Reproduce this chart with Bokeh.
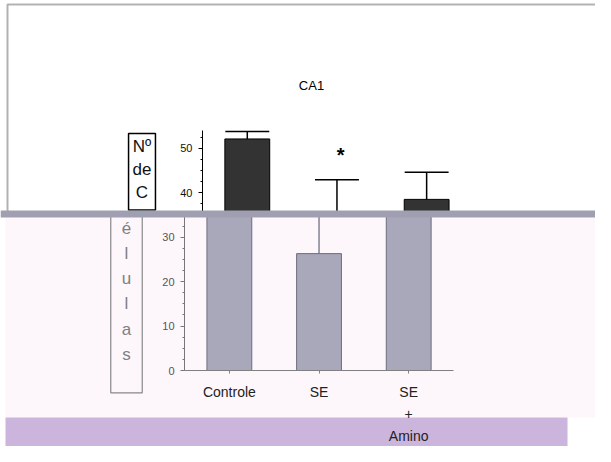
from bokeh.plotting import figure
from bokeh.models import (Range1d, Label, BoxAnnotation, ColumnDataSource, LinearAxis,
                          SingleIntervalTicker, FixedTicker)
from bokeh.transform import dodge
from bokeh.embed import file_html
from bokeh.resources import INLINE

# ---- data ----
categories = ["Controle", "SE", "SE + Amino"]
means = [52.1, 26.3, 38.5]
errors = [1.7, 16.6, 6.1]
y_tick_interval = 10
title_text = "CA1"
y_label_upper = ["Nº", "de", "C"]
y_label_lower = ["é", "l", "u", "l", "a", "s"]
x_tick_texts = ["Controle", "SE", "SE\n+\nAmino"]
star_text = "*"

# style constants
BAND = 35.2      # level where the picture is split by the grey band
SHIFT = 0.2      # offset of the upper half of the picture
Y_TOP = 54
FONT = "Liberation Sans"

xs = [i + 0.5 for i in range(len(categories))]


def canvas_box(left, right, top, bottom, **kw):
    return BoxAnnotation(left=left, right=right, top=top, bottom=bottom,
                         left_units="canvas", right_units="canvas",
                         top_units="canvas", bottom_units="canvas", **kw)


p = figure(width=595, height=446, output_backend="svg", toolbar_location=None,
           x_range=Range1d(-2.052, 4.583), y_range=Range1d(-17.1, 83.25),
           x_axis_location=None, y_axis_location=None, min_border=0)
p.outline_line_color = None
p.grid.grid_line_color = None
p.background_fill_color = "white"
p.border_fill_color = "white"

# decorative regions of the picture
p.add_layout(canvas_box(5, 620, 217, 417, fill_color="#fdf7fc", fill_alpha=1,
                        line_color=None, level="underlay"))
p.add_layout(canvas_box(5, 567, 417, 470, fill_color="#cbb5dc", fill_alpha=1,
                        line_color=None, level="underlay"))
p.add_layout(canvas_box(7, 640, 4, 212, fill_alpha=0, line_color="black",
                        line_width=2, level="underlay"))

# lower (grey) part of each bar
low_src = ColumnDataSource(dict(x=xs, top=[min(m, BAND) for m in means]))
p.vbar(x="x", top="top", bottom=0, width=0.5, source=low_src,
       fill_color="#a9a8ba", line_color="#6e6e80", line_width=1)

# upper (dark) part of each bar, above the band
up = [(x, m) for x, m in zip(xs, means) if m > BAND]
up_src = ColumnDataSource(dict(x=[x for x, _ in up], top=[m for _, m in up],
                               bottom=[BAND for _ in up]))
p.vbar(x=dodge("x", SHIFT), top="top", bottom="bottom", width=0.5,
       source=up_src, fill_color="#333333", line_color="black", line_width=1)

# error bars: lower stretch (below band) and upper stretch with cap
lo = [(x, m) for x, m in zip(xs, means) if m < BAND]
lo_src = ColumnDataSource(dict(x=[x for x, _ in lo], y0=[m for _, m in lo],
                               y1=[BAND for _ in lo]))
p.segment(x0="x", x1="x", y0="y0", y1="y1", source=lo_src, line_color="#666677", line_width=1.2)

err_src = ColumnDataSource(dict(x=xs,
                                y0=[max(m, BAND) for m in means],
                                y1=[m + e for m, e in zip(means, errors)]))
p.segment(x0=dodge("x", SHIFT), x1=dodge("x", SHIFT),
          y0="y0", y1="y1", source=err_src, line_color="black", line_width=1.5)
p.segment(x0=dodge("x", SHIFT - 0.245), x1=dodge("x", SHIFT + 0.245),
          y0="y1", y1="y1", source=err_src, line_color="black", line_width=1.5)


def style_y(axis, color, label_color):
    axis.axis_line_color = color
    axis.major_tick_line_color = color
    axis.minor_tick_line_color = color
    axis.major_tick_in = 0
    axis.major_tick_out = 4
    axis.minor_tick_in = 0
    axis.minor_tick_out = 2
    axis.major_label_text_font = FONT
    axis.major_label_text_font_size = "11px"
    axis.major_label_text_color = label_color
    axis.major_label_standoff = 6


# y axis: lower half at the frame origin, upper half shifted like the picture
y_low = LinearAxis(fixed_location=0, bounds=(0, BAND),
                   ticker=SingleIntervalTicker(interval=y_tick_interval, num_minor_ticks=4))
style_y(y_low, "#777777", "#555555")
p.add_layout(y_low, "left")

y_up = LinearAxis(fixed_location=SHIFT, bounds=(BAND, Y_TOP),
                  ticker=SingleIntervalTicker(interval=y_tick_interval, num_minor_ticks=4))
style_y(y_up, "black", "#111111")
p.add_layout(y_up, "left")

xaxis = LinearAxis(fixed_location=0, bounds=(0, len(categories)),
                   ticker=FixedTicker(ticks=xs, minor_ticks=[]),
                   major_label_overrides={x: t for x, t in zip(xs, x_tick_texts)})
xaxis.axis_line_color = "#808080"
xaxis.major_tick_line_color = "#808080"
xaxis.major_tick_in = 0
xaxis.major_tick_out = 3
xaxis.major_label_text_font = FONT
xaxis.major_label_text_font_size = "14px"
xaxis.major_label_text_color = "#222222"
xaxis.major_label_text_line_height = 1.4
xaxis.major_label_standoff = 10
p.add_layout(xaxis, "below")

# texts (padding order: left, right, top, bottom)
p.add_layout(Label(x=1.416, y=64.1, text=title_text, text_align="center",
                   text_baseline="middle", text_font=FONT, text_font_size="13px",
                   text_color="black"))
p.add_layout(Label(x=-0.647, y=35.1, text="\n".join(y_label_lower), text_align="center",
                   text_baseline="top", text_font=FONT, text_font_size="17px",
                   text_line_height=1.33, text_color="#808080",
                   border_line_color="#888888", border_line_width=1.2,
                   background_fill_color="#fdf7fc", padding=(11, 11, 4, 29)))
p.add_layout(Label(x=-0.474, y=53.3, text="\n".join(y_label_upper), text_align="center",
                   text_baseline="top", text_font=FONT, text_font_size="17px",
                   text_line_height=1.22, text_color="#111111",
                   border_line_color="black", border_line_width=1.5,
                   background_fill_color="white", padding=(4, 4, 3, 8)))
p.add_layout(Label(x=1.5 + SHIFT + 0.04, y=48.4, text=star_text, text_align="center",
                   text_baseline="middle", text_font=FONT, text_font_size="20px",
                   text_font_style="bold", text_color="black"))

# grey band crossing the picture
p.add_layout(canvas_box(0, 620, 210, 217, fill_color="#a09fb1", fill_alpha=1,
                        line_color=None, level="overlay"))

open("out.html", "w").write(file_html(p, INLINE))
